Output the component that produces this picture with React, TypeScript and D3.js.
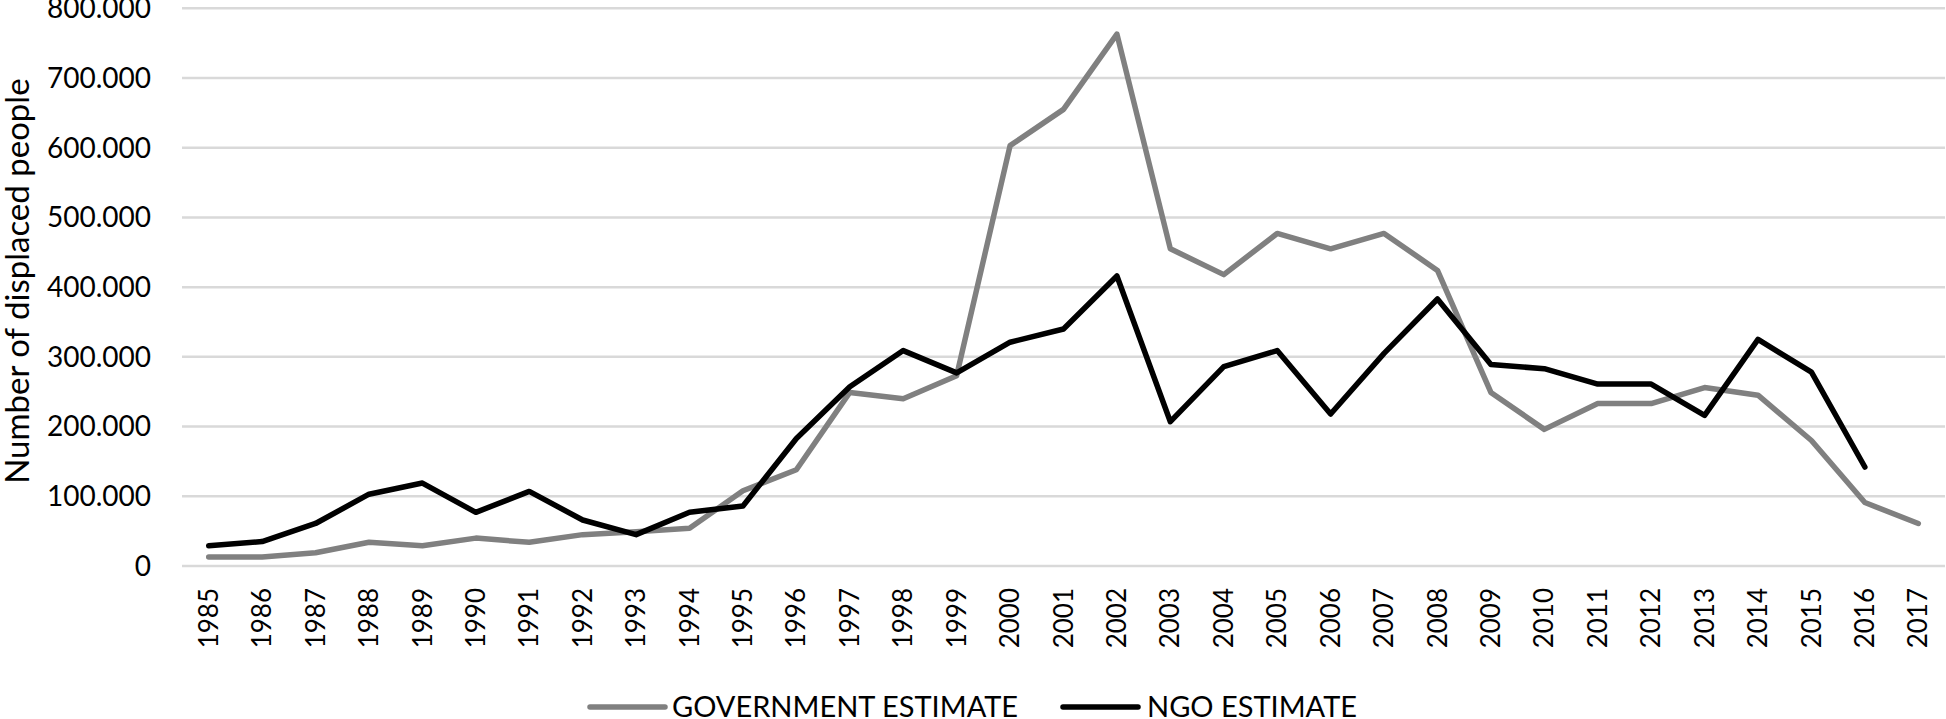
import React, { useEffect, useRef } from "react";
import * as d3 from "d3";

const years: string[] = [
  "1985","1986","1987","1988","1989","1990","1991","1992","1993","1994","1995",
  "1996","1997","1998","1999","2000","2001","2002","2003","2004","2005","2006",
  "2007","2008","2009","2010","2011","2012","2013","2014","2015","2016","2017",
];

// values in people
const governmentEstimate: (number | null)[] = [
  13000, 13000, 19000, 34000, 29000, 40000, 34000, 45000, 49000, 54000, 108000,
  138000, 249000, 240000, 273000, 603000, 655000, 763000, 455000, 418000, 477000, 455000,
  477000, 424000, 249000, 196000, 233000, 233000, 256000, 245000, 180000, 91000, 61000,
];

const ngoEstimate: (number | null)[] = [
  29000, 35000, 61000, 103000, 119000, 77000, 107000, 66000, 45000, 77000, 86000,
  183000, 257000, 309000, 277000, 321000, 340000, 416000, 207000, 286000, 309000, 218000,
  305000, 383000, 289000, 283000, 261000, 261000, 216000, 325000, 278000, 142000, null,
];

const yTicks: number[] = [0, 100000, 200000, 300000, 400000, 500000, 600000, 700000, 800000];

const seriesNames = ["GOVERNMENT ESTIMATE", "NGO ESTIMATE"];
const seriesColors = ["#808080", "#000000"];

const W = 1946;
const H = 719;
const FONT = "Lato, 'Open Sans', sans-serif";

export default function App() {
  const ref = useRef<SVGSVGElement>(null);

  useEffect(() => {
    const svg = d3.select(ref.current);
    svg.selectAll("*").remove();

    const plotLeft = 182;
    const plotRight = 1945;
    const plotTop = 8.3;
    const plotBottom = 566;

    const x = d3.scaleBand<string>().domain(years).range([plotLeft, plotRight]).padding(0);
    const cx = (yr: string) => (x(yr) as number) + x.bandwidth() / 2;
    const y = d3.scaleLinear().domain([0, 800000]).range([plotBottom, plotTop]);

    const fmt = (v: number) => (v === 0 ? "0" : d3.format(",")(v).replace(/,/g, "."));

    // gridlines
    svg.append("g")
      .selectAll("line")
      .data(yTicks)
      .join("line")
      .attr("x1", plotLeft)
      .attr("x2", plotRight)
      .attr("y1", (d) => y(d))
      .attr("y2", (d) => y(d))
      .attr("stroke", "#d9d9d9")
      .attr("stroke-width", 2.5);

    // y tick labels
    svg.append("g")
      .selectAll("text")
      .data(yTicks)
      .join("text")
      .attr("x", 151)
      .attr("y", (d) => y(d))
      .attr("dy", "0.35em")
      .attr("text-anchor", "end")
      .attr("font-family", FONT)
      .attr("font-size", 28)
      .attr("fill", "#000")
      .text((d) => fmt(d));

    // y title
    svg.append("text")
      .attr("transform", `translate(17,${(plotTop + plotBottom) / 2 - 6}) rotate(-90)`)
      .attr("text-anchor", "middle")
      .attr("dy", "0.35em")
      .attr("font-family", FONT)
      .attr("font-size", 33)
      .attr("fill", "#000")
      .text("Number of displaced people");

    // x labels
    svg.append("g")
      .selectAll("text")
      .data(years)
      .join("text")
      .attr("transform", (d) => `translate(${cx(d)},588) rotate(-90)`)
      .attr("text-anchor", "end")
      .attr("dy", "0.35em")
      .attr("font-family", FONT)
      .attr("font-size", 26)
      .attr("fill", "#000")
      .text((d) => d);

    const series = [governmentEstimate, ngoEstimate];
    series.forEach((vals, i) => {
      const line = d3.line<number | null>()
        .defined((v) => v !== null)
        .x((_, j) => cx(years[j]))
        .y((v) => y(v as number));
      svg.append("path")
        .datum(vals)
        .attr("d", line)
        .attr("fill", "none")
        .attr("stroke", seriesColors[i])
        .attr("stroke-width", 5.5)
        .attr("stroke-linejoin", "round")
        .attr("stroke-linecap", "round");
    });

    // legend
    const legendY = 707;
    const legendItems = [
      { x1: 590, x2: 665, tx: 672 },
      { x1: 1063, x2: 1138, tx: 1147 },
    ];
    legendItems.forEach((it, i) => {
      svg.append("line")
        .attr("x1", it.x1)
        .attr("x2", it.x2)
        .attr("y1", legendY)
        .attr("y2", legendY)
        .attr("stroke", seriesColors[i])
        .attr("stroke-width", 5.5)
        .attr("stroke-linecap", "round");
      svg.append("text")
        .attr("x", it.tx)
        .attr("y", legendY)
        .attr("dy", "0.36em")
        .attr("font-family", FONT)
        .attr("font-size", 29)
        .attr("fill", "#000")
        .text(seriesNames[i]);
    });
  }, []);

  return (
    <svg
      ref={ref}
      width={W}
      height={H}
      style={{ position: "absolute", left: 0, top: 0, background: "#fff" }}
    />
  );
}
